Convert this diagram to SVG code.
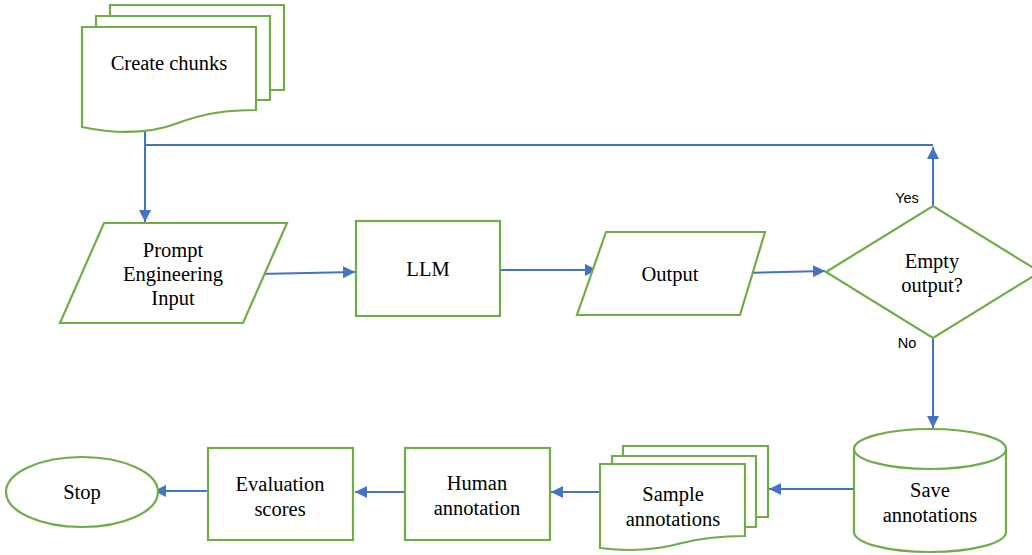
<svg xmlns="http://www.w3.org/2000/svg" width="1032" height="555" viewBox="0 0 1032 555">
<defs>
<marker id="arr" markerUnits="userSpaceOnUse" markerWidth="14" markerHeight="12" refX="12" refY="6" orient="auto">
<path d="M0,0 L12,6 L0,12 Z" fill="#4472C4"/>
</marker>
<style>
.n{fill:#fff;stroke:#70AD47;stroke-width:2.2}
.t{font-family:"Liberation Serif","Times New Roman",serif;font-size:20.5px;fill:#000;text-anchor:middle}
.s{font-family:"Liberation Sans",Arial,sans-serif;font-size:14.5px;fill:#000;text-anchor:middle}
.c{fill:none;stroke:#4472C4;stroke-width:2}
</style>
</defs>
<rect width="1032" height="555" fill="#fff"/>
<g id="connectors">
<polyline class="c" points="145,128 145,145 933,145"/>
<line class="c" x1="145" y1="145" x2="145" y2="222" marker-end="url(#arr)"/>
<line class="c" x1="933" y1="206" x2="933" y2="147" marker-end="url(#arr)"/>
<line class="c" x1="258" y1="274" x2="355" y2="272" marker-end="url(#arr)"/>
<line class="c" x1="500" y1="270" x2="597" y2="270" marker-end="url(#arr)"/>
<line class="c" x1="745" y1="273" x2="825" y2="271" marker-end="url(#arr)"/>
<line class="c" x1="933" y1="338" x2="933" y2="428" marker-end="url(#arr)"/>
<line class="c" x1="854" y1="489" x2="769" y2="489" marker-end="url(#arr)"/>
<line class="c" x1="600" y1="492" x2="551" y2="492" marker-end="url(#arr)"/>
<line class="c" x1="405" y1="492" x2="355" y2="492" marker-end="url(#arr)"/>
<line class="c" x1="208" y1="491" x2="154" y2="491" marker-end="url(#arr)"/>
</g>
<g id="create-chunks">
<polyline class="n" points="110,16 110,5 284,5 284,90 270,90"/>
<polyline class="n" points="96,27 96,16 270,16 270,100 256,100"/>
<path class="n" d="M82,27 L256,27 L256,110 C228,110 205,113 178,123 C152,133 120,135 82,127 Z"/>
<text class="t" x="169" y="70">Create chunks</text>
</g>
<g id="prompt">
<polygon class="n" points="104,223 287,223 243,323 60,323"/>
<text class="t" x="173" y="257">Prompt</text>
<text class="t" x="173" y="281">Engineering</text>
<text class="t" x="173" y="305">Input</text>
</g>
<g id="llm">
<rect class="n" x="356" y="221" width="144" height="95"/>
<text class="t" x="428" y="276">LLM</text>
</g>
<g id="output">
<polygon class="n" points="606,232 765,232 740,315 577,315"/>
<text class="t" x="670" y="281">Output</text>
</g>
<g id="decision">
<polygon class="n" points="826,272 933,206 1040,272 933,338"/>
<text class="t" x="932" y="268">Empty</text>
<text class="t" x="932" y="292">output?</text>
<text class="s" x="907" y="203">Yes</text>
<text class="s" x="907" y="348">No</text>
</g>
<g id="save-annotations">
<path class="n" d="M854,449 L854,532 A76,20 0 0 0 1006,532 L1006,449"/>
<ellipse class="n" cx="930" cy="449" rx="76" ry="20"/>
<text class="t" x="930" y="497">Save</text>
<text class="t" x="930" y="522">annotations</text>
</g>
<g id="sample-annotations">
<polyline class="n" points="623,456 623,446 768,446 768,517 756,517"/>
<polyline class="n" points="612,464 612,456 756,456 756,527 745,527"/>
<path class="n" d="M600,464 L745,464 L745,536 C722,536 702,538 682,543 C657,550 630,552 600,548 Z"/>
<text class="t" x="673" y="501">Sample</text>
<text class="t" x="673" y="526">annotations</text>
</g>
<g id="human-annotation">
<rect class="n" x="405" y="448" width="145" height="92"/>
<text class="t" x="477" y="490">Human</text>
<text class="t" x="477" y="515">annotation</text>
</g>
<g id="evaluation-scores">
<rect class="n" x="208" y="448" width="145" height="92"/>
<text class="t" x="280" y="491">Evaluation</text>
<text class="t" x="280" y="516">scores</text>
</g>
<g id="stop">
<ellipse class="n" cx="82" cy="492" rx="76" ry="35"/>
<text class="t" x="82" y="499">Stop</text>
</g>
</svg>
